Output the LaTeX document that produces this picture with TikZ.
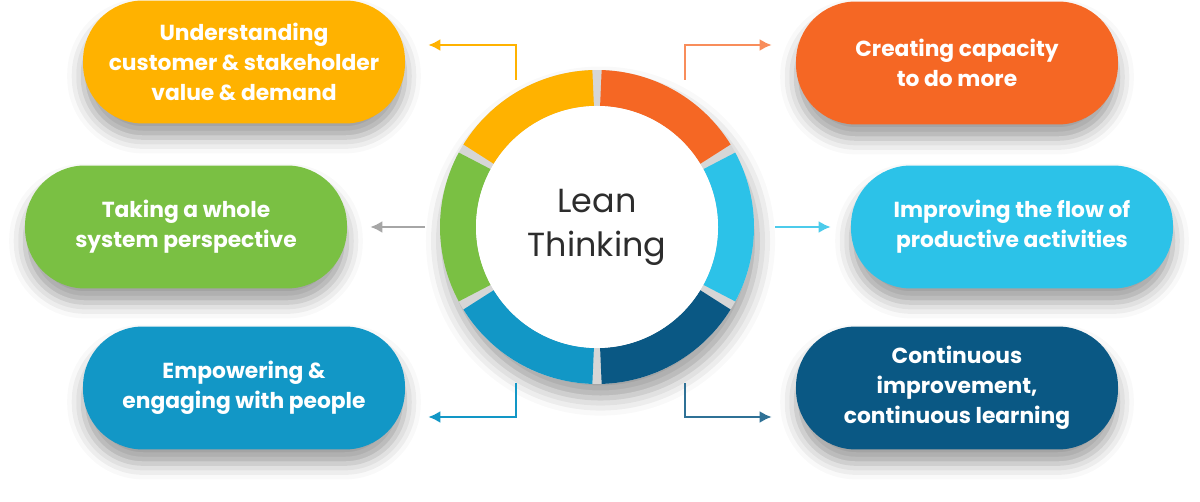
\documentclass[tikz,border=0pt]{standalone}
\usepackage{fontspec}
\setmainfont{Poppins}
\usepackage{xcolor}
\usepackage{tikz}
\usetikzlibrary{arrows.meta,calc,positioning,shadows.blur}

\definecolor{cYellow}{RGB}{255,178,0}
\definecolor{cOrange}{RGB}{245,103,36}
\definecolor{cGreen}{RGB}{122,192,67}
\definecolor{cCyan}{RGB}{44,194,232}
\definecolor{cBlue}{RGB}{18,151,198}
\definecolor{cNavy}{RGB}{10,88,132}
\definecolor{ringgap}{RGB}{214,214,214}
\definecolor{aGray}{RGB}{166,166,166}
\definecolor{hubtextcol}{RGB}{45,45,45}

\begin{document}
\begin{tikzpicture}[
  x=0.02cm,y=0.02cm,
  pill/.style={rectangle,rounded corners=1.2cm,minimum width=6.44cm,minimum height=2.46cm,align=center,text=white,
    font=\bfseries\fontsize{12.4}{17}\selectfont,
    blur shadow={shadow xshift=0pt,shadow yshift=-8pt,shadow blur radius=9pt,shadow opacity=38}},
  hubring/.style={circle,minimum size=6.28cm,inner sep=0pt,fill=ringgap,
    blur shadow={shadow xshift=2pt,shadow yshift=-8pt,shadow blur radius=10pt,shadow opacity=38}},
  hubtext/.style={align=center,text=hubtextcol,font=\fontsize{19}{25}\selectfont},
  seg/.style={line width=0.72cm},
  arr/.style={-{Latex[length=2.4mm,width=2.4mm]},line width=1.3pt}
]
\useasboundingbox (0,0) rectangle (1200,-502);
% ring
\node[hubring] (hub) at (597,-227) {};
\draw[seg,cOrange] ($(hub.center)+(88.4:139)$) arc[start angle=88.4,end angle=31.6,radius=139];
\draw[seg,cCyan] ($(hub.center)+(28.4:139)$) arc[start angle=28.4,end angle=-28.4,radius=139];
\draw[seg,cNavy] ($(hub.center)+(-31.6:139)$) arc[start angle=-31.6,end angle=-88.4,radius=139];
\draw[seg,cBlue] ($(hub.center)+(-91.6:139)$) arc[start angle=-91.6,end angle=-148.4,radius=139];
\draw[seg,cGreen] ($(hub.center)+(208.4:139)$) arc[start angle=208.4,end angle=151.6,radius=139];
\draw[seg,cYellow] ($(hub.center)+(148.4:139)$) arc[start angle=148.4,end angle=91.6,radius=139];
\fill[white] (hub.center) circle[radius=121];
\node[hubtext] (title) at (hub.center) {Lean\\Thinking};
% pills
\node[pill,fill=cYellow] (pUnd) at (244,-62) {Understanding\\customer \& stakeholder\\value \& demand};
\node[pill,fill=cGreen] (pSys) at (186,-227) {Taking a whole\\system perspective};
\node[pill,fill=cBlue] (pEmp) at (244,-388) {Empowering \&\\engaging with people};
\node[pill,fill=cOrange] (pCap) at (957,-63) {Creating capacity\\to do more};
\node[pill,fill=cCyan] (pFlow) at (1012,-227) {Improving the flow of\\productive activities};
\node[pill,fill=cNavy] (pCon) at (957,-388) {Continuous\\improvement,\\continuous learning};
% arrows
\draw[arr,cYellow] ($(hub.center)+(-81,147)$) |- ($(pUnd.east)+(23,17)$);
\draw[arr,cOrange!75] ($(hub.center)+(88,147)$) |- ($(pCap.west)+(-24,18)$);
\draw[arr,aGray] ($(hub.center)+(-172,0)$) -- ($(pSys.east)+(23,0)$);
\draw[arr,cCyan!85] ($(hub.center)+(178,0)$) -- ($(pFlow.west)+(-20,0)$);
\draw[arr,cBlue] ($(hub.center)+(-81,-156)$) |- ($(pEmp.east)+(23,-29)$);
\draw[arr,cNavy!85] ($(hub.center)+(88,-156)$) |- ($(pCon.west)+(-24,-29)$);
\end{tikzpicture}
\end{document}
